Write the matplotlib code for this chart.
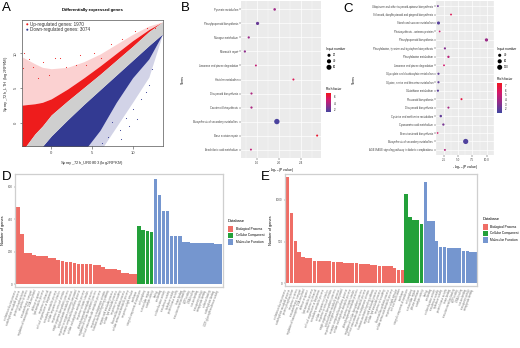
import matplotlib
matplotlib.use('Agg')
import matplotlib.pyplot as plt
import numpy as np
from matplotlib.colors import LinearSegmentedColormap, Normalize
from matplotlib.patches import Rectangle
import matplotlib.cm as cm

plt.rcParams['font.family'] = ['Liberation Sans', 'DejaVu Sans']

# ---------------- DATA ----------------
# Panel A: scatter, band edges (x = log2RPKM UR0803)
a_x = [-3.6, -2.0, -1.1, 0.0, 2.0, 4.0, 6.0, 8.0, 10.0, 12.0, 13.7]
a_gray_hi = [-4.0, -1.5, -0.4, 1.2, 3.2, 5.1, 7.0, 9.0, 11.0, 13.1, 14.5]
a_gray_lo = [-4.0, -4.0, -3.3, -1.8, 0.5, 2.7, 4.8, 6.9, 9.0, 11.1, 12.8]
a_red_core_hi = [2.6, 2.8, 3.0, 3.5, 4.9, 6.5, 8.2, 10.0, 11.8, 13.4, 14.5]
a_red_sparse_hi = [9.5, 8.5, 8.0, 7.8, 8.0, 8.8, 9.9, 11.3, 12.7, 13.9, 14.5]
a_blue_core_lo = [-4.0, -4.0, -4.0, -4.0, -4.0, -4.0, -1.0, 3.0, 6.5, 9.2, 12.8]
a_blue_sparse_lo = [-4.0, -4.0, -4.0, -4.0, -4.0, -4.0, -4.0, -0.5, 3.0, 6.6, 12.8]
red_out_x = [-3.4, -3.5, -2.7, -2.2, -1.6, -1.0, -0.3, 0.5, 1.1, 1.8, 3.0, 3.5, 4.3, 5.2, 6.1, 7.4, 8.7, 10.3, 11.8, 12.8]
red_out_y = [10.0, 7.9, 9.2, 8.0, 6.5, 8.8, 6.9, 9.4, 9.4, 8.1, 8.3, 9.8, 8.4, 10.1, 9.3, 11.4, 12.0, 13.2, 13.6, 13.6]
blue_out_x = [6.2, 7.0, 7.5, 8.4, 9.2, 10.1, 11.0, 12.0, 8.6, 9.6, 10.6, 11.6, 12.4]
blue_out_y = [-2.8, -2.0, 0.2, -1.0, 0.8, 2.0, 3.5, 5.5, -2.2, -0.4, 0.6, 4.5, 7.8]
gray_out_x = [11.8, 12.3, 12.9, 13.3, 13.5]
gray_out_y = [12.2, 12.9, 13.6, 13.2, 14.2]

# Panel B: KEGG enrichment (top to bottom)
b_terms = ["Pyruvate metabolism", "Phenylpropanoid biosynthesis", "Nitrogen metabolism",
           "Mismatch repair", "Limonene and pinene degradation", "Histidine metabolism",
           "Diterpenoid biosynthesis", "Carotenoid biosynthesis",
           "Biosynthesis of secondary metabolites", "Base excision repair",
           "Arachidonic acid metabolism"]
b_logp = [1.92, 1.61, 1.45, 1.38, 1.58, 2.26, 1.50, 1.50, 1.96, 2.69, 1.49]
b_rich = [3.6, 2.2, 3.5, 3.2, 4.6, 5.6, 4.0, 3.9, 1.5, 6.5, 4.5]
b_count = [12, 22, 8, 8, 5, 6, 7, 8, 70, 6, 5]

# Panel C
c_terms = ["Ubiquinone and other terpenoid-quinone biosynthesis",
           "Stilbenoid, diarylheptanoid and gingerol biosynthesis",
           "Starch and sucrose metabolism", "Photosynthesis - antenna proteins",
           "Phenylpropanoid biosynthesis",
           "Phenylalanine, tyrosine and tryptophan biosynthesis",
           "Phenylalanine metabolism", "Limonene and pinene degradation",
           "Glyoxylate and dicarboxylate metabolism",
           "Glycine, serine and threonine metabolism", "Glutathione metabolism",
           "Flavonoid biosynthesis", "Diterpenoid biosynthesis",
           "Cysteine and methionine metabolism", "Cyanoamino acid metabolism",
           "Brassinosteroid biosynthesis", "Biosynthesis of secondary metabolites",
           "AGE-RAGE signaling pathway in diabetic complications"]
c_logp = [1.5, 3.78, 1.6, 1.8, 9.94, 2.72, 3.33, 2.56, 1.6, 1.6, 1.5, 5.6, 3.33, 2.0, 2.45, 1.45, 6.33, 2.72]
c_rich = [2.3, 6.0, 1.7, 5.2, 3.6, 3.0, 4.6, 5.4, 2.0, 2.0, 1.8, 6.5, 4.0, 2.0, 2.6, 5.5, 1.5, 4.4]
c_count = [10, 8, 40, 6, 45, 15, 18, 8, 15, 15, 15, 12, 12, 22, 18, 5, 130, 10]

# Panel D: GO bars
d_bp = [476, 307, 192, 190, 177, 173, 171, 171, 161, 159, 150, 142, 134, 134, 130,
        126, 124, 124, 122, 117, 115, 103, 93, 93, 91, 87, 68, 66, 60, 60]
d_cc = [361, 332, 326, 322]
d_mf = [650, 551, 454, 454, 297, 295, 295, 260, 260, 252, 252, 252, 252, 252, 252, 250, 245]
bp_terms = ["oxidation-reduction process", "carbohydrate metabolic process",
            "protein phosphorylation", "response to stress", "transmembrane transport",
            "regulation of transcription, DNA-templated", "defense response",
            "lipid metabolic process", "response to chemical",
            "cell wall organization or biogenesis", "secondary metabolic process",
            "cellular response to stimulus", "response to external stimulus",
            "single-organism biosynthetic process", "polysaccharide metabolic process",
            "response to oxygen-containing compound", "aromatic compound biosynthetic process",
            "cellular carbohydrate metabolic process", "response to biotic stimulus",
            "phenylpropanoid metabolic process", "regulation of cellular biosynthetic process",
            "cell wall macromolecule metabolic process", "response to endogenous stimulus",
            "hormone-mediated signaling pathway", "organic acid metabolic process",
            "cellular lipid metabolic process", "response to wounding",
            "flavonoid biosynthetic process", "cellular amino acid metabolic process",
            "response to light stimulus", "cell wall modification"]
cc_terms = ["membrane", "integral component of membrane", "cell periphery",
            "extracellular region", "plasma membrane"]
mf_terms = ["catalytic activity", "binding", "ion binding", "oxidoreductase activity",
            "transferase activity", "hydrolase activity", "protein kinase activity",
            "heme binding", "transition metal ion binding", "ATP binding", "DNA binding",
            "iron ion binding", "transporter activity", "tetrapyrrole binding",
            "cofactor binding", "carbohydrate binding", "UDP-glycosyltransferase activity"]

# Panel E
e_bp = [1272, 840, 512, 380, 320, 304, 300, 272, 268, 268, 268, 268, 252, 252, 252,
        248, 248, 240, 240, 236, 232, 228, 220, 220, 212, 212, 212, 204, 188, 164, 156]
e_cc = [1072, 800, 760, 760, 716]
e_mf = [1212, 752, 752, 504, 440, 432, 424, 424, 424, 424, 392, 384, 380, 380]

# ---------------- STYLE ----------------
W, H = 520, 348
fig = plt.figure(figsize=(5.2, 3.48), dpi=100)


def ax_px(x0, y0, x1, y1, **kw):
    return fig.add_axes([x0 / W, 1 - y1 / H, (x1 - x0) / W, (y1 - y0) / H], **kw)


def T(x, y, s, **kw):
    kw.setdefault('ha', 'center')
    kw.setdefault('va', 'center')
    return fig.text(x / W, 1 - y / H, s, **kw)


RED, BLUE, GRAY = '#EE1C1C', '#333A92', '#CFCFCF'
cmap = LinearSegmentedColormap.from_list('rf', ['#4346A0', '#8F2E8C', '#D41A6E', '#F0161E'])
BPC, CCC, MFC = '#EF6E66', '#23A03A', '#7596CF'

# overlay for legends
axO = fig.add_axes([0, 0, 1, 1], zorder=10)
axO.set_xlim(0, W)
axO.set_ylim(H, 0)
axO.axis('off')

# ---------------- PANEL A ----------------
axA = ax_px(22, 20, 163, 146)
axA.set_xlim(-3.6, 13.74)
axA.set_ylim(-3.24, 14.76)
axA.fill_between(a_x, a_red_core_hi, a_red_sparse_hi, color=RED, alpha=0.2, lw=0)
axA.fill_between(a_x, a_blue_sparse_lo, a_blue_core_lo, color=BLUE, alpha=0.22, lw=0)
axA.fill_between(a_x, a_gray_hi, a_red_core_hi, color=RED, lw=0)
axA.fill_between(a_x, a_blue_core_lo, a_gray_lo, color=BLUE, lw=0)
axA.fill_between(a_x, a_gray_lo, a_gray_hi, color=GRAY, lw=0)
axA.scatter(red_out_x, red_out_y, s=0.6, color=RED, lw=0)
axA.scatter(blue_out_x, blue_out_y, s=0.6, color=BLUE, lw=0)
axA.scatter(gray_out_x, gray_out_y, s=0.6, color=GRAY, lw=0)
for sp in axA.spines.values():
    sp.set_color('#555555')
    sp.set_linewidth(0.5)
axA.set_xticks([0, 5, 10])
axA.set_yticks([0, 5, 10])
axA.tick_params(labelsize=3, length=1.8, width=0.4, pad=1.5, colors='#444444')
for lb in axA.get_yticklabels():
    lb.set_rotation(90)
    lb.set_va('center')
T(92, 10, 'Differentially expressed genes', fontsize=3.1, fontweight='bold')
T(92, 163, 'Spray_72h_UR0803 (log$_2$RPKM)', fontsize=3.1, color='#333333')
T(6, 84, 'Spray_72h_LTH (log$_2$RPKM)', fontsize=3.1, rotation=90, color='#333333')
axO.scatter([27.3, 27.3], [24.3, 29.7], s=2.2, color=[RED, BLUE], lw=0)
T(30, 24.3, 'Up-regulated genes: 1970', fontsize=3.3, ha='left', color='#333333')
T(30, 29.7, 'Down-regulated genes: 3074', fontsize=3.3, ha='left', color='#333333')


# ---------------- ENRICHMENT PANELS ----------------
def enrich(box, terms, logp, rich, count, norm, xticks, xlim, size_k, size_ticks,
           leg_x, title_y, cb_box, cb_ticks, terms_x):
    ax = ax_px(*box)
    ax.set_facecolor('#EBEBEB')
    n = len(terms)
    ypos = np.arange(n)[::-1]
    ax.set_xlim(*xlim)
    ax.set_ylim(-0.6, n - 0.4)
    ax.set_xticks(xticks)
    mids = [(xticks[i] + xticks[i + 1]) / 2 for i in range(len(xticks) - 1)]
    step = xticks[1] - xticks[0]
    ax.set_xticks([xticks[0] - step / 2] + mids + [xticks[-1] + step / 2], minor=True)
    ax.grid(which='major', color='white', lw=0.5)
    ax.grid(which='minor', axis='x', color='white', lw=0.25)
    ax.set_axisbelow(True)
    ax.scatter(logp, ypos, s=[size_k * c + 1.0 for c in count], c=rich, cmap=cmap,
               norm=norm, lw=0, zorder=3)
    ax.set_yticks(ypos)
    ax.set_yticklabels(terms)
    ax.set_xticklabels([f'{t:.1f}' for t in xticks])
    for sp in ax.spines.values():
        sp.set_visible(False)
    ax.tick_params(axis='y', labelsize=1.9, length=1.2, width=0.35, pad=0.8,
                   colors='#444444')
    ax.tick_params(axis='x', which='major', labelsize=2.2, length=1.2, width=0.35,
                   pad=0.8, colors='#444444')
    ax.tick_params(axis='x', which='minor', length=0)
    ax.set_xlabel('- log$_{10}$ (P value)', fontsize=2.4, labelpad=1.2)
    T(terms_x, 80, 'Terms', fontsize=2.3, rotation=90)
    # size legend
    T(leg_x, title_y, 'Input number', fontsize=2.3, ha='left')
    ys = [title_y + 6.6, title_y + 12.6, title_y + 18.6]
    axO.scatter([leg_x + 3] * 3, ys, s=[size_k * c + 1.0 for c in size_ticks],
                color='black', lw=0)
    for yy, c in zip(ys, size_ticks):
        T(leg_x + 7, yy, str(c), fontsize=2.0, ha='left')
    cax = ax_px(*cb_box)
    cb = fig.colorbar(cm.ScalarMappable(norm=norm, cmap=cmap), cax=cax)
    cb.outline.set_visible(False)
    cb.set_ticks(cb_ticks)
    cb.ax.tick_params(labelsize=2.0, length=1.0, width=0.3, pad=1, color='white')
    T(leg_x, cb_box[1] - 4.5, 'Rich factor', fontsize=2.3, ha='left')
    return ax


enrich((241, 1, 321, 158), b_terms, b_logp, b_rich, b_count, Normalize(1.3, 6.9),
       [1.6, 2.0, 2.4], (1.31, 2.76), 0.2, [20, 40, 60], 326, 48.7,
       (326, 93.3, 331.3, 112.3), [2, 4, 6], 183)
enrich((436, 1, 494, 155), c_terms, c_logp, c_rich, c_count, Normalize(1.15, 7.5),
       [2.5, 5.0, 7.5, 10.0], (1.17, 10.8), 0.1, [40, 80, 120], 496.7, 48.7,
       (496.7, 83, 502, 112.7), [2, 3, 4, 5, 6, 7], 354)


# ---------------- GO PANELS ----------------
def go_panel(box, bp, cc, mf, ylim, yticks, leg):
    ax = ax_px(*box)
    vals = bp + cc + mf
    cols = [BPC] * len(bp) + [CCC] * len(cc) + [MFC] * len(mf)
    labels = bp_terms[:len(bp)] + cc_terms[:len(cc)] + mf_terms[:len(mf)]
    xs = np.arange(len(vals))
    ax.bar(xs, vals, width=0.9, color=cols, lw=0)
    ax.set_xlim(-0.6, len(vals) - 0.4)
    ax.set_ylim(*ylim)
    ax.set_yticks(yticks)
    ax.set_xticks(xs)
    ax.set_xticklabels(labels, rotation=70, ha='right', va='top', fontsize=1.9,
                       color='#555555')
    ax.tick_params(axis='y', labelsize=2.2, length=1.0, width=0.3, pad=1,
                   colors='#555555')
    ax.tick_params(axis='x', length=1.0, width=0.3, pad=0.8, colors='#777777')
    for sp in ax.spines.values():
        sp.set_color('#CFCFCF')
        sp.set_linewidth(0.9)
    ax.set_ylabel('Number of genes', fontsize=2.8, labelpad=2)
    lx, ty, tx = leg
    T(lx, ty, 'Database', fontsize=2.9, ha='left')
    for i, (c, name) in enumerate(zip([BPC, CCC, MFC],
                                      ['Biological Process', 'Cellular Component',
                                       'Molecular Function'])):
        y0 = ty + 5.5 + i * 6.5
        axO.add_patch(Rectangle((lx, y0), 5.6, 5.8, color=c, lw=0))
        T(tx, y0 + 2.9, name, fontsize=2.3, ha='left')
    return ax


go_panel((15.4, 174, 222.6, 287), d_bp, d_cc, d_mf, (-18.5, 680), [0, 200, 400, 600],
         (227.7, 220.5, 236.5))
go_panel((285.4, 174, 477.3, 286), e_bp, e_cc, e_mf, (-32, 1310), [0, 500, 1000],
         (482.7, 218.5, 490.5))

# panel letters
for lt, x, y in [('A', 2, 2), ('B', 181, 2), ('C', 343, 3), ('D', 2, 171), ('E', 261, 171)]:
    T(x, y, lt, fontsize=9.5, ha='left', va='top')

fig.savefig('out.png', dpi=100)
